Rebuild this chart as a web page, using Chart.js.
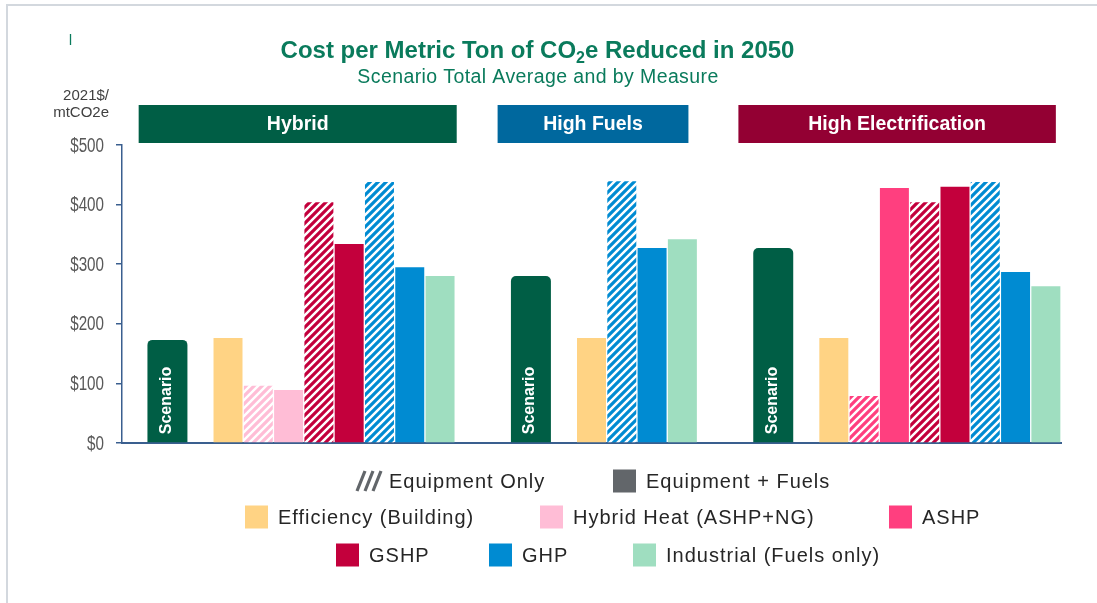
<!DOCTYPE html>
<html>
<head>
<meta charset="utf-8">
<script src="https://cdn.jsdelivr.net/npm/chart.js@4.4.1/dist/chart.umd.min.js"></script>
<style>
  html, body { margin: 0; padding: 0; background: #ffffff; }
  #wrap { width: 1097px; height: 603px; position: relative; }
</style>
</head>
<body>
<div id="wrap"><canvas id="chart" width="1097" height="603"></canvas></div>
<script>
// ---------------- DATA ----------------
const titleText = 'Cost per Metric Ton of CO\u2082e Reduced in 2050';
const subtitleText = 'Scenario Total Average and by Measure';
const yAxisTitle = ['2021$/', 'mtCO2e'];
const scenarioBarLabel = 'Scenario';

const scenarios = ['Hybrid', 'High Fuels', 'High Electrification'];
const scenarioTotals = [173, 280, 327];

const costTypes = ['Equipment Only', 'Equipment + Fuels'];
const measureNames = ['Efficiency (Building)', 'Hybrid Heat (ASHP+NG)', 'ASHP', 'GSHP', 'GHP', 'Industrial (Fuels only)'];

const hybridMeasures = ['Efficiency (Building)', 'Hybrid Heat (ASHP+NG)', 'Hybrid Heat (ASHP+NG)', 'GSHP', 'GSHP', 'GHP', 'GHP', 'Industrial (Fuels only)'];
const hybridTypes = ['Equipment + Fuels', 'Equipment Only', 'Equipment + Fuels', 'Equipment Only', 'Equipment + Fuels', 'Equipment Only', 'Equipment + Fuels', 'Equipment + Fuels'];
const hybridValues = [176, 96, 89, 404, 334, 438, 295, 280];

const highFuelsMeasures = ['Efficiency (Building)', 'GHP', 'GHP', 'Industrial (Fuels only)'];
const highFuelsTypes = ['Equipment + Fuels', 'Equipment Only', 'Equipment + Fuels', 'Equipment + Fuels'];
const highFuelsValues = [176, 439, 327, 342];

const highElecMeasures = ['Efficiency (Building)', 'ASHP', 'ASHP', 'GSHP', 'GSHP', 'GHP', 'GHP', 'Industrial (Fuels only)'];
const highElecTypes = ['Equipment + Fuels', 'Equipment Only', 'Equipment + Fuels', 'Equipment Only', 'Equipment + Fuels', 'Equipment Only', 'Equipment + Fuels', 'Equipment + Fuels'];
const highElecValues = [176, 79, 428, 404, 430, 438, 287, 263];

const yTickValues = [0, 100, 200, 300, 400, 500];
const yTickPrefix = '$';

// ---------------- STYLE ----------------
const FONT = '"Liberation Sans", Arial, Helvetica, sans-serif';
const axisColor = '#3A5F8F';
const scenarioColor = '#005E45';
const headerColors = ['#005E45', '#00689E', '#930033'];
const measureColors = {
  'Efficiency (Building)': '#FFD384',
  'Hybrid Heat (ASHP+NG)': '#FFBDD6',
  'ASHP': '#FF3F7F',
  'GSHP': '#C3003C',
  'GHP': '#008BD2',
  'Industrial (Fuels only)': '#9FDEC0'
};
const typeColor = '#62666A';

const ctxMain = document.getElementById('chart').getContext('2d');
function hatch(color) {
  const s = 8;
  const c = document.createElement('canvas');
  c.width = s; c.height = s;
  const x = c.getContext('2d');
  x.fillStyle = '#ffffff';
  x.fillRect(0, 0, s, s);
  x.strokeStyle = color;
  x.lineWidth = 3.2;
  x.beginPath();
  x.moveTo(-2, s + 2); x.lineTo(s + 2, -2);
  x.moveTo(-2, 2); x.lineTo(2, -2);
  x.moveTo(s - 2, s + 2); x.lineTo(s + 2, s - 2);
  x.stroke();
  return ctxMain.createPattern(c, 'repeat');
}
const patternCache = {};
function fillFor(measure, type) {
  const col = measureColors[measure];
  if (type === costTypes[0]) {
    if (!patternCache[measure]) patternCache[measure] = hatch(col);
    return patternCache[measure];
  }
  return col;
}

// ---------------- BUILD SLOTS ----------------
const groups = [
  [hybridMeasures, hybridTypes, hybridValues],
  [highFuelsMeasures, highFuelsTypes, highFuelsValues],
  [highElecMeasures, highElecTypes, highElecValues]
];
const slotLabels = [];
const measureData = [];
const measureFill = [];
const scenarioData = [];
const groupSlots = [];
function pushEmpty(label) {
  slotLabels.push(label); measureData.push(null); measureFill.push('rgba(0,0,0,0)'); scenarioData.push(null);
}
groups.forEach((g, gi) => {
  const gaps = gi === 0 ? 1 : 2;
  for (let i = 0; i < gaps; i++) pushEmpty('');
  const first = slotLabels.length;
  pushEmpty(scenarios[gi]);
  scenarioData[first] = scenarioTotals[gi];
  pushEmpty('');
  const [ms, ts, vs] = g;
  ms.forEach((m, i) => {
    slotLabels.push(m + ' - ' + ts[i]);
    measureData.push(vs[i]);
    measureFill.push(fillFor(m, ts[i]));
    scenarioData.push(null);
  });
  groupSlots.push([first, slotLabels.length - 1]);
});

// ---------------- DECORATION PLUGIN ----------------
const headerSpan = [[-0.95, 0.55], [-1.1, 0.2], [-1.15, 0.33]];
const legendPos = [[356, 481], [613, 481], [245, 517], [540, 517], [889, 517], [336, 555], [489, 555], [633, 555]];

const decor = {
  id: 'decor',
  beforeDraw(chart) {
    const c = chart.ctx;
    c.save();
    c.fillStyle = '#ffffff';
    c.fillRect(0, 0, chart.width, chart.height);
    c.strokeStyle = '#D3D8DE';
    c.lineWidth = 2;
    c.beginPath();
    c.moveTo(7, 603); c.lineTo(7, 5); c.lineTo(1097, 5);
    c.stroke();
    c.strokeStyle = '#0A7B5C';
    c.lineWidth = 1.3;
    c.beginPath(); c.moveTo(70.5, 34); c.lineTo(70.5, 45); c.stroke();
    c.restore();
  },
  afterDatasetsDraw(chart) {
    const c = chart.ctx;
    const meta = chart.getDatasetMeta(1);
    c.save();
    c.fillStyle = '#ffffff';
    c.font = 'bold 16px ' + FONT;
    c.textAlign = 'left';
    c.textBaseline = 'middle';
    meta.data.forEach((el, i) => {
      if (scenarioData[i] == null) return;
      c.save();
      c.translate(el.x - 1, el.base - 8);
      c.rotate(-Math.PI / 2);
      c.fillText(scenarioBarLabel, 0, 0);
      c.restore();
    });
    c.restore();
  },
  afterDraw(chart) {
    const c = chart.ctx;
    const xs = chart.scales.x;
    const ys = chart.scales.y;
    c.save();
    // Y tick labels (condensed look)
    c.fillStyle = '#595959';
    c.font = '20px ' + FONT;
    c.textAlign = 'right';
    c.textBaseline = 'middle';
    ys.ticks.forEach(t => {
      const y = ys.getPixelForValue(t.value);
      c.save();
      c.translate(104, y + 1);
      c.scale(0.76, 1);
      c.fillText(yTickPrefix + t.value, 0, 0);
      c.restore();
    });
    // Title with subscript
    const parts = titleText.split('\u2082');
    const big = 'bold 24px ' + FONT, small = 'bold 16px ' + FONT;
    c.font = big; const w0 = c.measureText(parts[0]).width; const w2 = c.measureText(parts[1]).width;
    c.font = small; const w1 = c.measureText('2').width;
    let tx = 537.5 - (w0 + w1 + w2) / 2;
    c.fillStyle = '#0A7B5C';
    c.textAlign = 'left';
    c.textBaseline = 'alphabetic';
    c.font = big; c.fillText(parts[0], tx, 58); tx += w0;
    c.font = small; c.fillText('2', tx, 63); tx += w1;
    c.font = big; c.fillText(parts[1], tx, 58);
    // Subtitle
    c.font = '19.5px ' + FONT;
    c.letterSpacing = '0.4px';
    c.textAlign = 'center';
    c.fillText(subtitleText, 538, 83);
    c.letterSpacing = '0px';
    // Y axis title
    c.fillStyle = '#404040';
    c.font = '15px ' + FONT;
    c.textAlign = 'right';
    c.fillText(yAxisTitle[0], 109, 100);
    c.fillText(yAxisTitle[1], 109, 117);
    // Scenario headers
    groupSlots.forEach((gs, gi) => {
      const l = xs.getPixelForValue(gs[0] + headerSpan[gi][0]);
      const r = xs.getPixelForValue(gs[1] + headerSpan[gi][1]);
      c.fillStyle = headerColors[gi];
      c.fillRect(l, 105, r - l, 38);
      c.fillStyle = '#ffffff';
      c.font = 'bold 19.5px ' + FONT;
      c.textAlign = 'center';
      c.textBaseline = 'middle';
      c.fillText(scenarios[gi], (l + r) / 2, 125);
    });
    // Legend
    const items = [
      { label: costTypes[0], kind: 'hatch' },
      { label: costTypes[1], color: typeColor }
    ].concat(measureNames.map(m => ({ label: m, color: measureColors[m] })));
    c.textAlign = 'left';
    c.textBaseline = 'middle';
    items.forEach((it, i) => {
      const [x, y] = legendPos[i];
      if (it.kind === 'hatch') {
        c.strokeStyle = typeColor;
        c.lineWidth = 3.2;
        c.beginPath();
        for (let k = 0; k < 3; k++) {
          const ox = x + 2 + k * 8;
          c.moveTo(ox - 1, y + 10); c.lineTo(ox + 7, y - 10);
        }
        c.stroke();
      } else {
        c.fillStyle = it.color;
        c.fillRect(x, y - 11.5, 23, 23);
      }
      c.fillStyle = '#262626';
      c.font = '20px ' + FONT;
      c.letterSpacing = '1px';
      c.fillText(it.label, x + 33, y + 1);
      c.letterSpacing = '0px';
    });
    c.restore();
  }
};

// ---------------- CHART ----------------
new Chart(ctxMain, {
  type: 'bar',
  data: {
    labels: slotLabels,
    datasets: [
      {
        label: 'Measures',
        data: measureData,
        backgroundColor: measureFill,
        borderWidth: 0,
        grouped: false,
        barPercentage: 0.957,
        categoryPercentage: 1
      },
      {
        label: 'Scenario Total Average',
        data: scenarioData,
        backgroundColor: scenarioColor,
        borderWidth: 0,
        borderRadius: { topLeft: 5, topRight: 5, bottomLeft: 0, bottomRight: 0 },
        borderSkipped: false,
        grouped: false,
        barPercentage: 1.32,
        categoryPercentage: 1
      }
    ]
  },
  options: {
    responsive: false,
    animation: false,
    events: [],
    layout: { padding: { left: 0, top: 145, right: 36, bottom: 160 } },
    plugins: {
      legend: { display: false },
      title: { display: false },
      tooltip: { enabled: false }
    },
    scales: {
      x: {
        type: 'category',
        offset: true,
        ticks: { display: false },
        grid: { display: true, drawOnChartArea: false, drawTicks: false, color: 'rgba(0,0,0,0)' },
        border: { display: true, color: axisColor, width: 2 },
        afterFit(s) { s.height = 0; }
      },
      y: {
        min: yTickValues[0],
        max: yTickValues[yTickValues.length - 1],
        afterBuildTicks(s) { s.ticks = yTickValues.map(v => ({ value: v })); },
        ticks: { display: false },
        grid: { drawOnChartArea: false, drawTicks: true, tickLength: 6, color: axisColor, lineWidth: 1.5 },
        border: { display: true, color: axisColor, width: 1.5 },
        afterFit(s) { s.width = 122; }
      }
    }
  },
  plugins: [decor]
});
</script>
</body>
</html>
